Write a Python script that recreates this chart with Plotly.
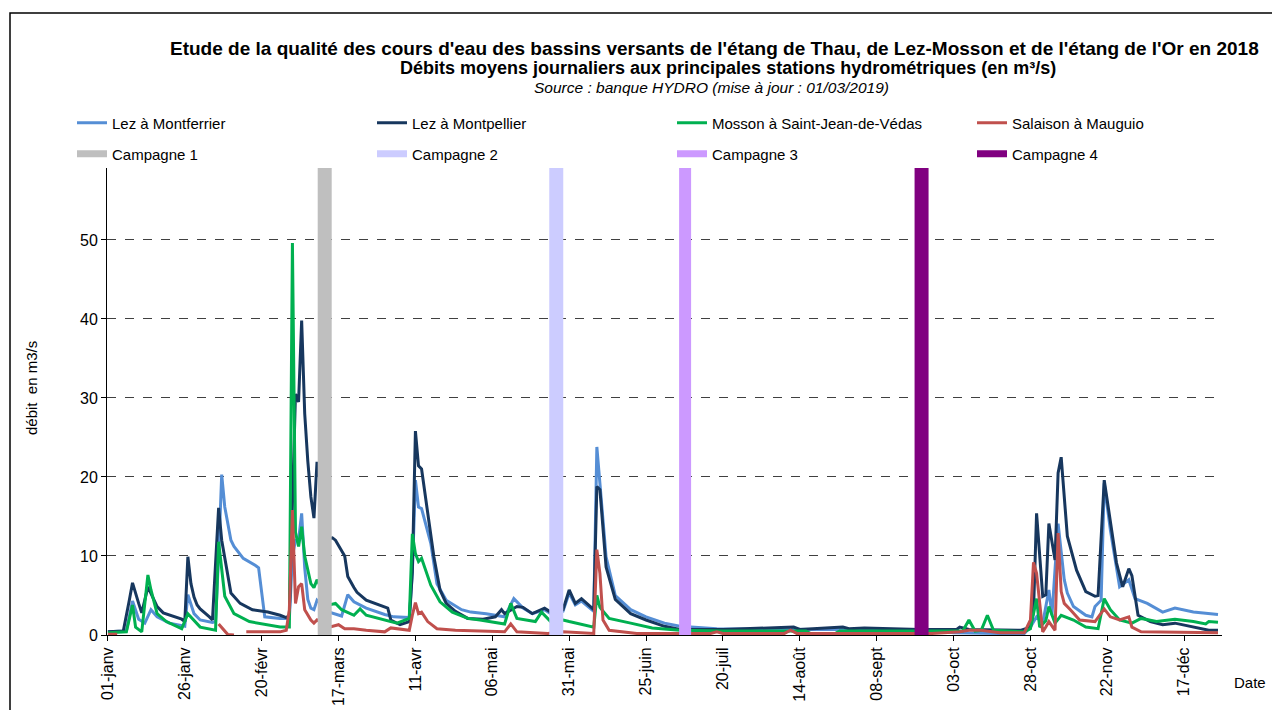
import pandas as pd
import plotly.graph_objects as go

# ---------------- DATA (day offsets from 01/01/2018, daily mean flow m3/s) ----------------
montferrier_days = [0, 6, 8, 10, 12, 14, 16, 20, 25, 26, 28, 30, 34, 35, 36, 37, 38, 40, 41, 44, 48, 49, 51, 56, 59,
                    60, 61, 62, 63, 64, 65, 66, 67, 68, 72, 76, 78, 80, 84, 90, 93, 98, 99, 100, 101, 102, 105, 107,
                    110, 115, 118, 123, 129, 132, 135, 138, 142, 144, 148, 150, 152, 154, 158, 159, 160, 162, 165,
                    170, 175, 181, 186, 198, 230, 264, 268, 275, 290, 298, 300, 302, 304, 306, 307, 309, 311, 312,
                    314, 318, 320, 321, 323, 324, 326, 329, 332, 334, 338, 343, 347, 353, 361]
montferrier_vals = [0.4, 0.5, 4.3, 2.0, 1.5, 3.2, 2.3, 1.5, 1.1, 5.1, 2.7, 1.9, 1.6, 1.7, 10.0, 20.3, 16.2, 12.0, 11.2,
                    9.7, 8.8, 8.5, 2.3, 2.1, 2.1, 10.0, 12.0, 12.0, 15.4, 8.5, 4.5, 3.4, 3.2, 4.4, 2.9, 2.4, 5.1, 4.2,
                    3.4, 2.6, 2.3, 2.2, 8.0, 19.6, 16.2, 16.0, 11.6, 6.5, 4.4, 3.2, 2.9, 2.7, 2.3, 4.6, 3.4, 2.7, 3.2,
                    2.7, 3.0, 5.3, 3.8, 4.3, 3.0, 23.8, 19.2, 9.9, 5.0, 3.2, 2.3, 1.5, 1.1, 0.8, 0.7, 0.7, 0.6, 0.3,
                    0.2, 0.2, 1.0, 2.3, 1.5, 5.7, 2.5, 14.1, 7.0, 5.3, 3.6, 2.5, 2.3, 3.6, 4.4, 19.2, 13.3, 6.1, 7.0,
                    4.6, 4.0, 2.9, 3.4, 2.9, 2.6]

montpellier_days = [0, 5, 7, 8, 10, 11, 13, 16, 18, 24, 25, 26, 27, 28, 29, 30, 33, 34, 36, 37, 40, 43, 47, 52, 56,
                    58, 59, 60, 61, 62, 63, 64, 65, 66, 67, 68, 72, 73, 74, 77, 78, 80, 81, 84, 88, 90, 91, 92, 95,
                    98, 99, 100, 101, 102, 104, 106, 108, 110, 113, 117, 122, 126, 128, 129, 133, 135, 138, 142, 144,
                    148, 150, 152, 154, 158, 159, 160, 162, 165, 170, 175, 181, 186, 200, 223, 225, 239, 241, 246,
                    255, 264, 276, 277, 280, 297, 300, 301, 302, 304, 305, 306, 308, 309, 310, 312, 315, 318, 321,
                    322, 324, 328, 330, 332, 333, 335, 339, 343, 347, 352, 358, 361]
montpellier_vals = [0.4, 0.5, 4.5, 6.6, 4.0, 2.8, 6.1, 3.6, 2.8, 2.0, 1.7, 9.9, 6.5, 4.8, 3.8, 3.3, 2.3, 1.9, 16.1,
                    12.0, 5.3, 4.0, 3.2, 2.9, 2.5, 2.2, 2.5, 18.0, 30.5, 29.5, 39.8, 28.0, 22.0, 17.5, 14.8, 21.9,
                    12.2, 12.3, 12.0, 10.0, 7.4, 6.0, 5.4, 4.4, 3.8, 3.6, 3.4, 1.9, 1.3, 1.7, 8.0, 25.8, 21.4, 21.0,
                    15.4, 9.9, 5.7, 4.0, 3.0, 2.1, 2.0, 2.3, 3.2, 2.7, 3.6, 3.5, 2.7, 3.4, 2.9, 3.2, 5.7, 4.0, 4.6,
                    3.2, 18.8, 18.4, 8.6, 4.5, 2.7, 1.9, 1.1, 0.7, 0.7, 1.0, 0.7, 1.0, 0.8, 0.9, 0.8, 0.7, 0.7, 1.0,
                    0.7, 0.6, 1.0, 3.0, 15.4, 4.9, 5.1, 14.1, 9.5, 20.5, 22.5, 12.5, 8.2, 5.5, 4.9, 5.0, 19.6, 9.1,
                    6.1, 8.4, 7.5, 2.5, 1.7, 1.3, 1.5, 1.1, 0.6, 0.6]

mosson_days = [0, 6, 8, 9, 11, 13, 14, 16, 19, 24, 26, 28, 30, 35, 36, 38, 41, 46, 52, 56, 59, 60, 61, 62, 63, 64,
               66, 67, 68, 72, 74, 76, 80, 82, 84, 90, 94, 98, 99, 100, 101, 102, 105, 108, 112, 117, 121, 129, 131,
               133, 139, 141, 144, 148, 150, 158, 159, 160, 163, 170, 177, 186, 200, 227, 229, 236, 238, 268, 278,
               280, 282, 284, 286, 288, 298, 300, 302, 303, 305, 306, 308, 310, 314, 318, 322, 324, 326, 329, 333,
               336, 341, 347, 353, 357, 358, 361]
mosson_vals = [0.3, 0.4, 3.8, 1.0, 0.4, 7.6, 5.7, 2.7, 1.7, 0.8, 2.7, 1.8, 1.0, 0.6, 11.8, 4.9, 2.7, 1.7, 1.3, 1.0,
               1.0, 49.6, 13.0, 11.2, 13.7, 10.0, 6.5, 6.0, 7.0, 3.8, 4.0, 3.2, 2.5, 3.3, 2.5, 1.9, 1.5, 2.1, 12.8,
               10.3, 9.3, 9.7, 6.3, 4.2, 2.9, 2.1, 1.9, 1.4, 4.0, 2.1, 1.7, 2.9, 1.7, 1.9, 1.7, 1.0, 5.0, 3.5, 2.1,
               1.5, 0.9, 0.6, 0.5, 0.5, 0.1, 0.1, 0.5, 0.5, 0.5, 1.9, 0.5, 0.6, 2.5, 0.6, 0.4, 0.8, 4.6, 1.0, 1.8,
               3.6, 1.5, 2.5, 1.9, 1.0, 0.8, 4.6, 3.2, 1.9, 1.5, 2.1, 1.7, 2.0, 1.7, 1.4, 1.7, 1.6]

salaison_days = [0, 3, 4, 36, 38, 39, 41, 42, 45, 50, 56, 58, 59, 60, 61, 62, 63, 64, 66, 67, 68, 72, 75, 77, 80, 84,
                 90, 92, 98, 99, 100, 101, 102, 104, 107, 113, 126, 129, 131, 133, 143, 148, 158, 159, 160, 161, 163,
                 172, 196, 198, 200, 220, 222, 224, 268, 277, 280, 284, 290, 298, 300, 301, 302, 304, 305, 306, 308,
                 309, 310, 311, 313, 316, 321, 324, 326, 329, 332, 333, 336, 361]
salaison_vals = [0.1, 0.1, None, 1.4, 0.5, 0.05, 0.0, None, 0.4, 0.4, 0.4, 0.6, 3.2, 15.8, 4.0, 6.1, 6.5, 3.2, 1.9,
                 1.5, 1.9, 1.0, 1.3, 0.8, 0.8, 0.6, 0.4, 0.9, 0.6, 2.5, 4.1, 2.7, 2.9, 1.7, 0.8, 0.6, 0.4, 0.4, 1.4,
                 0.4, 0.2, 0.4, 0.2, 10.8, 7.8, 1.9, 0.6, 0.2, 0.2, 0.4, 0.2, 0.2, 0.6, 0.2, 0.2, 0.4, 0.6, 0.6, 0.3,
                 0.3, 1.9, 9.2, 7.8, 0.4, 1.0, 1.7, 0.6, 12.9, 5.5, 4.0, 3.2, 1.9, 1.7, 3.3, 2.3, 1.9, 2.3, 1.0, 0.4,
                 0.3]

campaign_names = ["Campagne 1", "Campagne 2", "Campagne 3", "Campagne 4"]
campaign_days = [70.5, 145.8, 187.7, 264.6]
campaign_range = [0, 60]

tick_days = [0, 25, 50, 75, 100, 125, 150, 175, 200, 225, 250, 275, 300, 325, 350]
tick_labels = ["01-janv", "26-janv", "20-févr", "17-mars", "11-avr", "06-mai", "31-mai", "25-juin", "20-juil",
               "14-août", "08-sept", "03-oct", "28-oct", "22-nov", "17-déc"]
y_ticks = [0, 10, 20, 30, 40, 50]

# ---------------- FIGURE ----------------
START = pd.Timestamp("2018-01-01")


def to_dates(days):
    return [START + pd.Timedelta(days=d) for d in days]


OFF = 8  # default page body margin
W, H = 1280 - 2 * OFF, 718 - 2 * OFF
L, R, T, B = 107 - OFF, 1222 - OFF, 168 - OFF, 635 - OFF


def px_x(px):
    return (px - OFF - L) / (R - L)


def px_y(py):
    return (B - (py - OFF)) / (B - T)


FONT = "Liberation Sans, Arial, Helvetica, sans-serif"

series = [
    ("Lez à Montferrier", montferrier_days, montferrier_vals, "#558ED5"),
    ("Lez à Montpellier", montpellier_days, montpellier_vals, "#17375E"),
    ("Mosson à Saint-Jean-de-Védas", mosson_days, mosson_vals, "#00B050"),
    ("Salaison à Mauguio", salaison_days, salaison_vals, "#C0504D"),
]
camp_colors = ["#BFBFBF", "#CCCCFF", "#CC99FF", "#800080"]
camp_widths = [14, 14, 12, 14]

fig = go.Figure()
for name, d, v, c in series:
    fig.add_trace(go.Scatter(x=to_dates(d), y=v, mode="lines", name=name,
                             line=dict(color=c, width=3), legend="legend"))
for name, d, c, w in zip(campaign_names, campaign_days, camp_colors, camp_widths):
    fig.add_trace(go.Scatter(x=to_dates([d, d]), y=campaign_range, mode="lines", name=name,
                             line=dict(color=c, width=w), legendgroup=name, showlegend=False))
    # legend entry drawn with a thinner stroke, as in the original legend
    fig.add_trace(go.Scatter(x=[None], y=[None], mode="lines", name=name,
                             line=dict(color=c, width=7), legendgroup=name, legend="legend2"))

fig.update_layout(
    width=W, height=H,
    margin=dict(l=L, r=W - R, t=T, b=H - B, autoexpand=False),
    paper_bgcolor="white", plot_bgcolor="white",
    font=dict(family=FONT, color="black", size=15),
    showlegend=True,
    legend=dict(orientation="h", x=px_x(72), y=px_y(123), xanchor="left", yanchor="middle",
                entrywidth=255, entrywidthmode="pixels", font=dict(size=15), bgcolor="rgba(0,0,0,0)",
                traceorder="normal"),
    legend2=dict(orientation="h", x=px_x(72), y=px_y(154), xanchor="left", yanchor="middle",
                 entrywidth=255, entrywidthmode="pixels", font=dict(size=15), bgcolor="rgba(0,0,0,0)",
                 traceorder="normal"),
)

fig.update_xaxes(
    type="date", automargin=False,
    range=[START + pd.Timedelta(days=-0.3), START + pd.Timedelta(days=362.3)],
    tickvals=to_dates(tick_days), ticktext=tick_labels, tickangle=-90,
    tickfont=dict(size=16, family=FONT), ticks="outside", ticklen=5, tickcolor="black",
    showline=True, linecolor="black", linewidth=1, showgrid=False, zeroline=False,
)
fig.update_yaxes(
    automargin=False,
    range=[0, 59.1], tickvals=y_ticks, tickfont=dict(size=16, family=FONT),
    ticks="outside", ticklen=5, tickcolor="black",
    showline=True, linecolor="black", linewidth=1,
    showgrid=True, gridcolor="#404040", gridwidth=1, griddash="dash", zeroline=False,
)

annotations = [
    dict(text="<b>Etude de la qualité des cours d'eau des bassins versants de l'étang de Thau, de Lez-Mosson et de l'étang de l'Or en 2018</b>",
         x=px_x(714), y=px_y(48), font=dict(size=19)),
    dict(text="<b>Débits moyens journaliers aux principales stations hydrométriques (en m³/s)</b>",
         x=px_x(728), y=px_y(68), font=dict(size=18)),
    dict(text="<i>Source : banque HYDRO (mise à jour : 01/03/2019)</i>",
         x=px_x(711), y=px_y(87), font=dict(size=15.5)),
    dict(text="débit  en m3/s", x=px_x(31), y=px_y(388), textangle=-90, font=dict(size=15)),
    dict(text="Date", x=px_x(1250), y=px_y(682), font=dict(size=15)),
]
for a in annotations:
    a.update(xref="paper", yref="paper", showarrow=False, xanchor="center", yanchor="middle")
fig.update_layout(annotations=annotations)

fig.add_shape(type="rect", xref="paper", yref="paper",
              x0=px_x(10), x1=px_x(1300), y0=px_y(13), y1=px_y(760),
              line=dict(color="black", width=1.5), fillcolor="rgba(0,0,0,0)", layer="below")

fig.write_html("out.html")
